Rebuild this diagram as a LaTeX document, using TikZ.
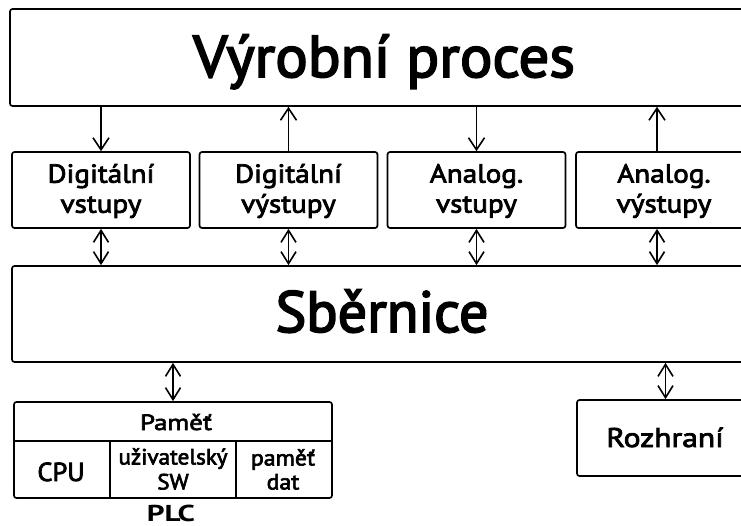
\documentclass[tikz,border=0pt]{standalone}
\usepackage{fontspec}
\setmainfont{PT Sans}
\usetikzlibrary{arrows.meta}
\newcommand{\fsz}[3]{\fontsize{#1}{#2}\selectfont\addfontfeatures{FakeStretch=#3,FakeBold=3}}
\newcommand{\fszb}[3]{\bfseries\fontsize{#1}{#2}\selectfont\addfontfeatures{FakeStretch=#3}}
\begin{document}
\begin{tikzpicture}[x=1pt,y=-1pt,
  box/.style={draw, line width=1.7pt, rounded corners=2.5pt, inner sep=0pt},
  lbl/.style={inner sep=0pt, align=center},
  conn/.style={line width=1.6pt},
  sarrow/.style={conn, -{Straight Barb[length=12pt,width=16pt,line width=1.6pt]}},
  darrow/.style={conn, {Straight Barb[length=12pt,width=15pt,line width=1.6pt]}-{Straight Barb[length=12pt,width=15pt,line width=1.6pt]}},
  rowbox/.style={box, minimum width=178pt, minimum height=76pt},
  rowtxt/.style={lbl, font=\fsz{26}{30}{1.12}},
]
\clip (0,0) rectangle (741,526);
\fill[white] (0,0) rectangle (741,526);

% top process box
\node[box, minimum width=746pt, minimum height=97pt] (proc) at (383,57.5) {};
\node[lbl, anchor=base, font=\fsz{59}{60}{1.03}] (procT) at (384,77) {Výrobní proces};

% row of I/O boxes
\node[rowbox] (b1) at (101,190) {};
\node[rowbox] (b2) at (288.5,190) {};
\node[rowbox] (b3) at (476.5,190) {};
\node[rowbox] (b4) at (665,190) {};
\node[rowtxt] (b1T) at (101,191) {Digitální\\vstupy};
\node[rowtxt] (b2T) at (288.5,191) {Digitální\\výstupy};
\node[rowtxt] (b3T) at (476.5,191) {Analog.\\vstupy};
\node[rowtxt] (b4T) at (664,191) {Analog.\\výstupy};

% bus
\node[box, minimum width=744pt, minimum height=96pt] (bus) at (384,314) {};
\node[lbl, anchor=base, font=\fsz{58}{60}{1.0}] (busT) at (382,332) {Sběrnice};

% PLC
\node[box, minimum width=318pt, minimum height=96pt] (plc) at (173,450) {};
\coordinate (h1) at (14,441);
\coordinate (v1) at (110,441);
\coordinate (v2) at (236,441);
\draw[line width=1.7pt] (h1 -| plc.west) -- (h1 -| plc.east);
\draw[line width=1.7pt] (v1) -- (v1 |- plc.south);
\draw[line width=1.7pt] (v2) -- (v2 |- plc.south);
\node[lbl, anchor=base, font=\fsz{22}{25}{1.22}] (pam) at (176,430) {Paměť};
\node[lbl, anchor=base, font=\fsz{26}{30}{1.02}] (cpu) at (61,481) {CPU};
\node[lbl, font=\fsz{22}{25}{1.05}] (usw) at (173,469) {uživatelský\\SW};
\node[lbl, font=\fsz{22}{24}{1.08}] (dat) at (283,469.5) {paměť\\dat};
\node[lbl, anchor=base, font=\fszb{23}{25}{1.35}] (plcT) at (171,521) {PLC};

% Rozhrani
\node[box, minimum width=177pt, minimum height=76pt] (roz) at (665.5,438) {};
\node[lbl, anchor=base, font=\fsz{27}{30}{1.17}] (rozT) at (665,447) {Rozhraní};

% arrows
\coordinate (a4) at (657,0);
\draw[sarrow] (proc.south -| b1) -- (b1.north);
\draw[sarrow] (b2.north) -- (proc.south -| b2);
\draw[sarrow] (proc.south -| b3) -- (b3.north);
\draw[sarrow] (b4.north -| a4) -- (proc.south -| a4);

\draw[darrow] (b1.south) -- (bus.north -| b1);
\draw[darrow] (b2.south) -- (bus.north -| b2);
\draw[darrow] (b3.south) -- (bus.north -| b3);
\draw[darrow] (b4.south -| a4) -- (bus.north -| a4);

\draw[darrow] (bus.south -| plc.north) -- (plc.north);
\draw[darrow] (bus.south -| roz.north) -- (roz.north);
\end{tikzpicture}
\end{document}
